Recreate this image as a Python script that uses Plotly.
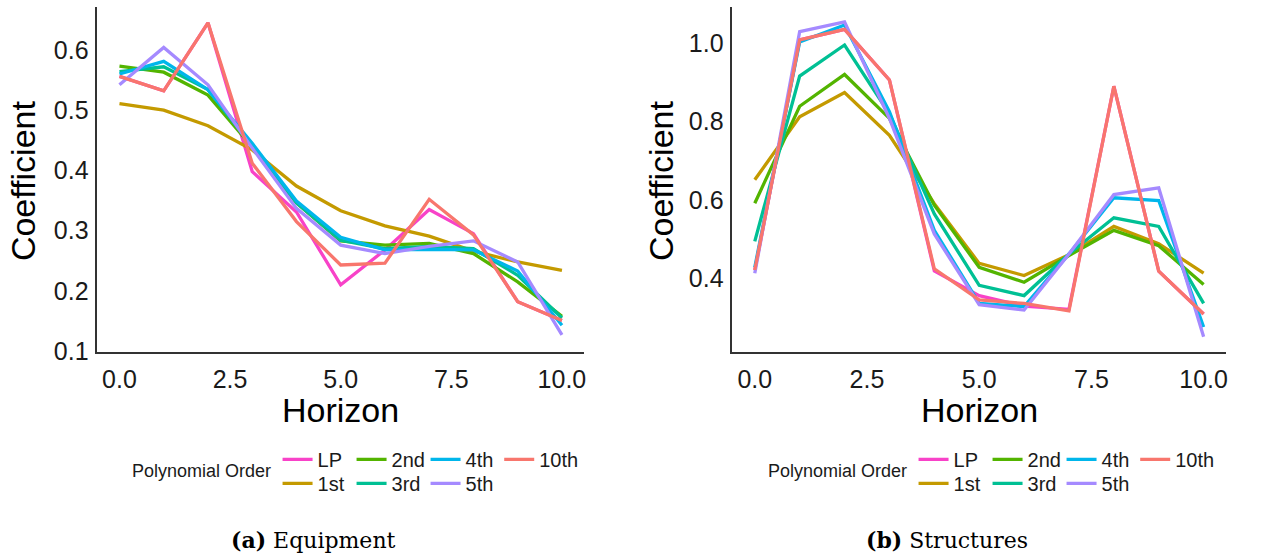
import plotly.graph_objects as go

horizon = [0, 1, 2, 3, 4, 5, 6, 7, 8, 9, 10]
orders = ["LP", "1st", "2nd", "3rd", "4th", "5th", "10th"]
colors = {"LP": "#F842C8", "1st": "#C49A00", "2nd": "#53B400", "3rd": "#00C094",
          "4th": "#00B6EB", "5th": "#A58AFF", "10th": "#F8766D"}

# Panel (a) Equipment
equip_LP   = [0.556, 0.532, 0.645, 0.398, 0.331, 0.210, 0.268, 0.335, 0.295, 0.182, 0.151]
equip_1st  = [0.511, 0.500, 0.474, 0.434, 0.374, 0.333, 0.308, 0.291, 0.266, 0.248, 0.234]
equip_2nd  = [0.573, 0.563, 0.525, 0.439, 0.346, 0.283, 0.276, 0.279, 0.262, 0.215, 0.158]
equip_3rd  = [0.564, 0.572, 0.534, 0.440, 0.346, 0.284, 0.270, 0.274, 0.270, 0.226, 0.155]
equip_4th  = [0.560, 0.581, 0.534, 0.445, 0.349, 0.289, 0.268, 0.269, 0.268, 0.233, 0.143]
equip_5th  = [0.542, 0.604, 0.542, 0.437, 0.337, 0.276, 0.262, 0.274, 0.283, 0.248, 0.127]
equip_10th = [0.556, 0.532, 0.645, 0.412, 0.315, 0.243, 0.246, 0.352, 0.293, 0.182, 0.151]

# Panel (b) Structures
struct_LP   = [0.422, 1.008, 1.035, 0.906, 0.420, 0.357, 0.330, 0.322, 0.890, 0.419, 0.310]
struct_1st  = [0.652, 0.812, 0.874, 0.765, 0.591, 0.439, 0.408, 0.461, 0.533, 0.489, 0.414]
struct_2nd  = [0.592, 0.839, 0.920, 0.808, 0.587, 0.429, 0.391, 0.459, 0.523, 0.484, 0.385]
struct_3rd  = [0.495, 0.916, 0.995, 0.820, 0.565, 0.383, 0.357, 0.463, 0.555, 0.533, 0.337]
struct_4th  = [0.429, 1.003, 1.046, 0.825, 0.523, 0.337, 0.329, 0.463, 0.606, 0.599, 0.277]
struct_5th  = [0.414, 1.029, 1.054, 0.808, 0.514, 0.334, 0.320, 0.463, 0.614, 0.631, 0.252]
struct_10th = [0.422, 1.008, 1.035, 0.906, 0.425, 0.346, 0.337, 0.318, 0.890, 0.419, 0.310]

equip = {"LP": equip_LP, "1st": equip_1st, "2nd": equip_2nd, "3rd": equip_3rd,
         "4th": equip_4th, "5th": equip_5th, "10th": equip_10th}
struct = {"LP": struct_LP, "1st": struct_1st, "2nd": struct_2nd, "3rd": struct_3rd,
          "4th": struct_4th, "5th": struct_5th, "10th": struct_10th}

x_ticks = [0, 2.5, 5, 7.5, 10]
equip_y_ticks = [0.1, 0.2, 0.3, 0.4, 0.5, 0.6]
struct_y_ticks = [0.4, 0.6, 0.8, 1.0]

row1 = ["LP", "2nd", "4th"]
rank = {"LP": 1, "2nd": 2, "4th": 3, "10th": 4, "1st": 5, "3rd": 6, "5th": 7}

fig = go.Figure()
for panel, data, xa, ya, leg_a, leg_b, leg_c in [
    ("a", equip, "x", "y", "legend", "legend2", "legend5"),
    ("b", struct, "x2", "y2", "legend3", "legend4", "legend6"),
]:
    for o in orders:
        if o == "10th":
            lg = leg_c
        elif o in row1:
            lg = leg_a
        else:
            lg = leg_b
        fig.add_trace(go.Scatter(
            x=horizon, y=data[o], mode="lines", name=o,
            line=dict(color=colors[o], width=3.3),
            xaxis=xa, yaxis=ya, legend=lg, legendrank=rank[o],
        ))

W, H = 1263, 558
VS = 1.0 / 0.976  # vertical correction
def px(xp):
    return xp / W
def py(yp):
    return (H - yp * VS) / H

ydom = [py(351.5), py(6.5)]
axis_common = dict(showline=True, linecolor="#333333", linewidth=1.5, ticks="",
                   showgrid=False, zeroline=False,
                   tickfont=dict(family="Liberation Sans, Arial", size=25, color="#1a1a1a"))

fig.update_layout(
    width=W, height=H, margin=dict(l=0, r=0, t=0, b=0),
    paper_bgcolor="white", plot_bgcolor="white",
    xaxis=dict(domain=[px(97.5), px(585)], range=[-0.5, 10.5], tickvals=x_ticks,
               tickformat=".1f", anchor="y", ticklabelstandoff=4, **axis_common),
    yaxis=dict(domain=ydom, range=[0.099, 0.672], tickvals=equip_y_ticks,
               tickformat=".1f", anchor="x", ticklabelstandoff=2, **axis_common),
    xaxis2=dict(domain=[px(733.5), px(1228)], range=[-0.5, 10.5], tickvals=x_ticks,
                tickformat=".1f", anchor="y2", ticklabelstandoff=4, **axis_common),
    yaxis2=dict(domain=ydom, range=[0.214, 1.093], tickvals=struct_y_ticks,
                tickformat=".1f", anchor="x2", ticklabelstandoff=2, **axis_common),
)

leg_common = dict(orientation="h", xanchor="left", yanchor="middle",
                  font=dict(family="Liberation Sans, Arial", size=20, color="#1a1a1a"),
                  bgcolor="rgba(0,0,0,0)", entrywidth=29, entrywidthmode="pixels",
                  itemwidth=30, tracegroupgap=0)
leg_single = dict(leg_common)
leg_single["entrywidth"] = 0
fig.update_layout(
    legend=dict(x=px(278), y=py(459), **leg_common),
    legend2=dict(x=px(278), y=py(483), **leg_common),
    legend5=dict(x=px(500), y=py(459), **leg_single),
    legend3=dict(x=px(915), y=py(459), **leg_common),
    legend4=dict(x=px(915), y=py(483), **leg_common),
    legend6=dict(x=px(1137), y=py(459), **leg_single),
)

title_font = dict(family="Liberation Sans, Arial", size=34, color="black")
ann = []
ann.append(dict(text="Horizon", x=px(341), y=py(410), xref="paper", yref="paper",
                showarrow=False, font=title_font, xanchor="center", yanchor="middle"))
ann.append(dict(text="Horizon", x=px(981), y=py(410), xref="paper", yref="paper",
                showarrow=False, font=title_font, xanchor="center", yanchor="middle"))
ann.append(dict(text="Coefficient", x=px(23), y=py(180), xref="paper", yref="paper",
                showarrow=False, font=title_font, textangle=-90,
                xanchor="center", yanchor="middle"))
ann.append(dict(text="Coefficient", x=px(662), y=py(180), xref="paper", yref="paper",
                showarrow=False, font=title_font, textangle=-90,
                xanchor="center", yanchor="middle"))
leg_title_font = dict(family="Liberation Sans, Arial", size=18, color="#1a1a1a")
ann.append(dict(text="Polynomial Order", x=px(130), y=py(471), xref="paper", yref="paper",
                showarrow=False, font=leg_title_font, xanchor="left", yanchor="middle"))
ann.append(dict(text="Polynomial Order", x=px(767), y=py(471), xref="paper", yref="paper",
                showarrow=False, font=leg_title_font, xanchor="left", yanchor="middle"))
cap_font = dict(family="DejaVu Serif, serif", size=22, color="black")
ann.append(dict(text="<b>(a)</b> Equipment", x=px(313.5), y=py(540), xref="paper", yref="paper",
                showarrow=False, font=cap_font, xanchor="center", yanchor="middle"))
ann.append(dict(text="<b>(b)</b> Structures", x=px(949), y=py(540), xref="paper", yref="paper",
                showarrow=False, font=cap_font, xanchor="center", yanchor="middle"))
fig.update_layout(annotations=ann)

fig.write_html("out.html")
